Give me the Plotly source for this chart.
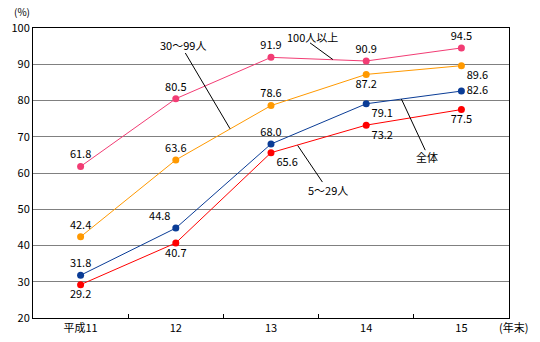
import plotly.graph_objects as go

categories = ["平成11", "12", "13", "14", "15"]
s100 = [61.8, 80.5, 91.9, 90.9, 94.5]
s30 = [42.4, 63.6, 78.6, 87.2, 89.6]
sall = [31.8, 44.8, 68.0, 79.1, 82.6]
s5 = [29.2, 40.7, 65.6, 73.2, 77.5]

series = [
    ("100人以上", s100, "#F23C74", ["top center"] * 5),
    ("30～99人", s30, "#FF9900", ["top center", "top center", "top center", "bottom center", "bottom right"]),
    ("全体", sall, "#0A3C96", ["top center", "top left", "top center", "bottom right", "middle right"]),
    ("5～29人", s5, "#FF0000", ["bottom center", "bottom center", "bottom right", "bottom right", "bottom center"]),
]

font = "Noto Sans CJK JP"
fig = go.Figure()
for name, vals, col, pos in series:
    fig.add_trace(go.Scatter(
        x=categories, y=vals, mode="lines+markers+text", name=name,
        line=dict(color=col, width=1), marker=dict(color=col, size=7),
        text=[f"{v:.1f}" for v in vals], textposition=pos,
        textfont=dict(size=11, color="black", family=font),
        cliponaxis=False,
    ))

# series labels with leader lines (x in category index, y in data units)
labels = [
    ("100人以上", 2.44, 97.6, 2.41, 95.9, 2.65, 91.3),
    ("30～99人", 1.08, 95.4, 1.10, 93.1, 1.57, 72.2),
    ("5～29人", 2.60, 55.3, 2.54, 57.5, 2.28, 67.6),
    ("全体", 3.64, 64.4, 3.62, 66.3, 3.37, 80.4),
]
for txt, tx, ty, x0, y0, x1, y1 in labels:
    fig.add_annotation(x=tx, y=ty, text=txt, showarrow=False, xref="x", yref="y",
                       font=dict(size=11, color="black", family=font))
    fig.add_shape(type="line", x0=x0, y0=y0, x1=x1, y1=y1, xref="x", yref="y",
                  line=dict(color="black", width=1))

fig.add_annotation(x=0, y=1, xref="paper", yref="paper", xshift=-11, yshift=17,
                   xanchor="center", yanchor="middle",
                   text="(%)", showarrow=False, font=dict(size=10, color="black", family=font))
fig.add_annotation(x=1, y=0, xref="paper", yref="paper", xshift=4, yshift=-9,
                   xanchor="center", yanchor="middle", text="(年末)", showarrow=False,
                   font=dict(size=11, color="black", family=font))

fig.update_layout(
    width=540, height=342, margin=dict(l=33, r=31, t=28, b=24, autoexpand=False),
    paper_bgcolor="white", plot_bgcolor="white", showlegend=False,
    font=dict(family=font, size=11, color="black"),
)
fig.update_xaxes(type="category", range=[-0.5, 4.5], tickson="boundaries",
                 ticks="inside", ticklen=4, tickcolor="black", showgrid=False,
                 showline=True, linecolor="black", linewidth=1, mirror=True,
                 automargin=False,
                 tickfont=dict(size=11, family=font, color="black"))
fig.update_yaxes(range=[20, 100], dtick=10, showgrid=True, gridcolor="#808080",
                 gridwidth=1, showline=True, linecolor="black", linewidth=1,
                 mirror=True, ticks="", zeroline=False, automargin=False,
                 tickfont=dict(size=11, family=font, color="black"))

fig.write_html("out.html")
